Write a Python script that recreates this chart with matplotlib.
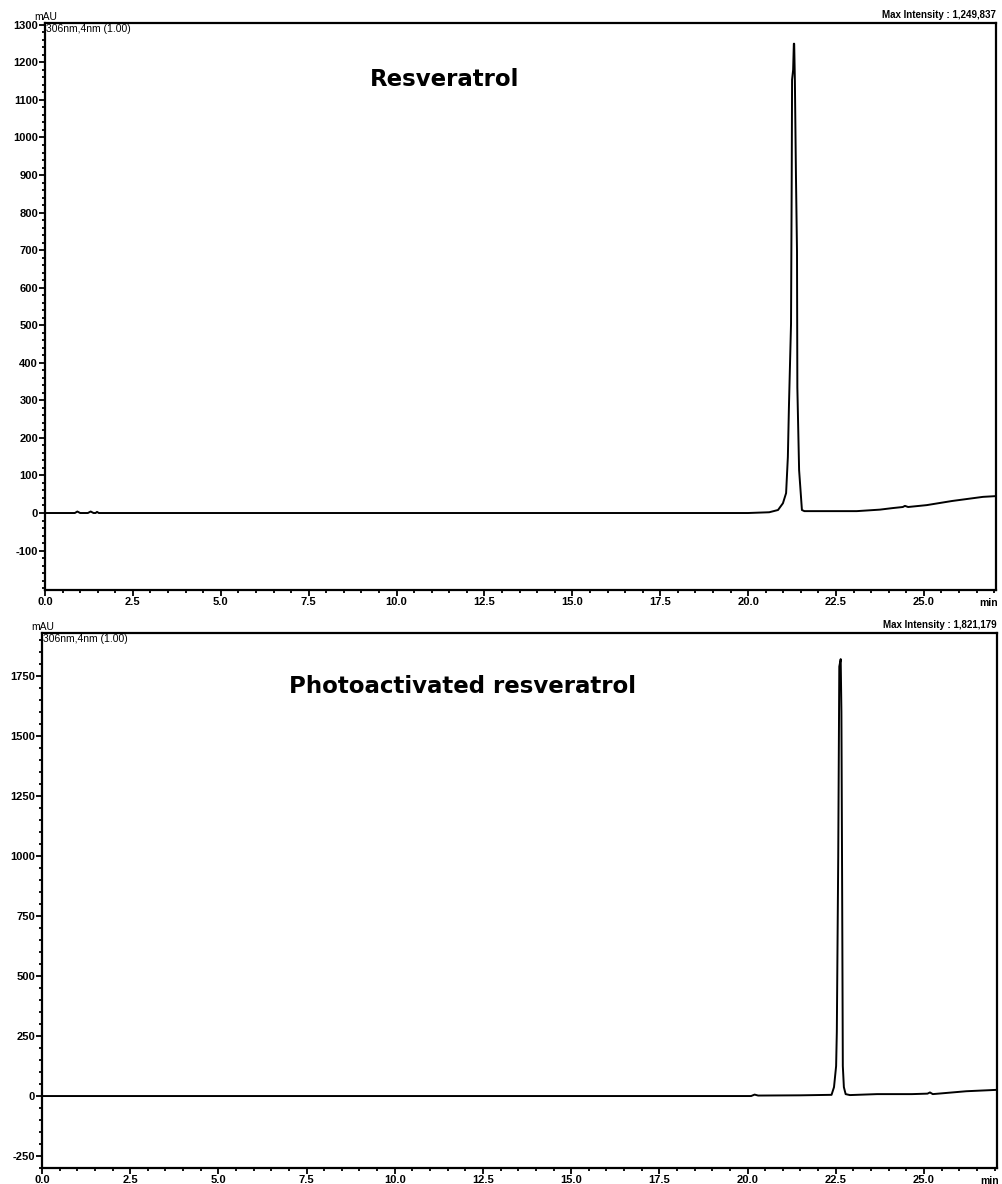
import matplotlib
matplotlib.use("Agg")
import matplotlib.pyplot as plt
from matplotlib.ticker import MultipleLocator, FormatStrFormatter

plt.rcParams["axes.unicode_minus"] = False

# chromatogram points (time in min, signal in mAU)
res_time = [0.0, 0.85, 0.92, 1.0, 1.22, 1.3, 1.38, 1.44, 1.48, 1.53, 5.0, 10.0, 15.0,
            20.0, 20.6, 20.85, 20.99, 21.08, 21.13, 21.16, 21.22, 21.24, 21.25, 21.28,
            21.30, 21.31, 21.33, 21.36, 21.39, 21.40, 21.45, 21.53, 21.6, 23.09, 23.75,
            24.1, 24.4, 24.46, 24.55, 25.08, 25.8, 26.68, 27.05]
res_signal = [0, 0, 4, 0, 0, 4, 0, 0, 3, 0, 0, 0, 0,
              0, 2, 8, 26, 53, 149, 281, 504, 900, 1154, 1180,
              1249.8, 1249.8, 1150, 900, 697, 334, 114, 8, 5, 5, 9,
              13, 16, 19, 16, 21, 32, 43, 45]

photo_time = [0.0, 5.0, 10.0, 15.0, 19.5, 20.1, 20.2, 20.3, 21.5, 22.38, 22.45, 22.51,
              22.53, 22.57, 22.60, 22.64, 22.66, 22.68, 22.70, 22.73, 22.78, 22.9,
              23.67, 24.66, 25.1, 25.17, 25.25, 26.2, 27.1]
photo_signal = [0, 0, 0, 0, 0, 0, 6, 2, 3, 5, 37, 125,
                267, 1000, 1790, 1821, 1600, 900, 125, 37, 8, 4,
                8, 8, 10, 15, 8, 20, 26]

x_ticks = [0.0, 2.5, 5.0, 7.5, 10.0, 12.5, 15.0, 17.5, 20.0, 22.5, 25.0]
res_yticks = [-100, 0, 100, 200, 300, 400, 500, 600, 700, 800, 900, 1000, 1100, 1200, 1300]
photo_yticks = [-250, 0, 250, 500, 750, 1000, 1250, 1500, 1750]

fig = plt.figure(figsize=(10.02, 11.84), dpi=100)
ax1 = fig.add_axes([0.0449, 0.5017, 0.9491, 0.4789])
ax2 = fig.add_axes([0.0419, 0.0135, 0.9531, 0.4519])

panels = [
  (ax1, res_time, res_signal, (0, 27.05), (-205, 1305), res_yticks, 20,
   "Resveratrol", 0.42, "Max Intensity : 1,249,837"),
  (ax2, photo_time, photo_signal, (0, 27.07), (-300, 1930), photo_yticks, 50,
   "Photoactivated resveratrol", 0.44, "Max Intensity : 1,821,179"),
]

for ax, t, s, xl, yl, yt, ymin, name, name_x, maxtxt in panels:
  ax.plot(t, s, color="black", lw=1.4)
  ax.set_xlim(*xl)
  ax.set_ylim(*yl)

  ax.set_xticks(x_ticks)
  ax.xaxis.set_major_formatter(FormatStrFormatter("%.1f"))
  ax.xaxis.set_minor_locator(MultipleLocator(0.5))
  ax.set_yticks(yt)
  ax.yaxis.set_minor_locator(MultipleLocator(ymin))

  ax.tick_params(which="major", direction="out", length=4, width=1.3, pad=1)
  ax.tick_params(which="minor", direction="out", length=2.5, width=1.3)
  for lab in ax.get_xticklabels() + ax.get_yticklabels():
    lab.set_fontfamily("Liberation Sans")
    lab.set_fontweight("bold")
    lab.set_fontsize(8)
  for sp in ax.spines.values():
    sp.set_linewidth(1.6)

  # unit labels around the frame
  ax.annotate("min", xy=(26.85, 0), xycoords=ax.get_xaxis_transform(),
              xytext=(0, -5.5), textcoords="offset points", ha="center", va="top",
              fontfamily="Liberation Sans", fontweight="bold", fontsize=7.5)
  ax.annotate("mAU", xy=(0, 1), xycoords="axes fraction", xytext=(-8, 1),
              textcoords="offset points", ha="left", va="bottom",
              fontfamily="Liberation Sans", fontsize=7.5)
  ax.annotate("306nm,4nm (1.00)", xy=(0, 1), xycoords="axes fraction", xytext=(1, -1),
              textcoords="offset points", ha="left", va="top",
              fontfamily="Liberation Sans", fontsize=7.5)
  ax.annotate(maxtxt, xy=(1, 1), xycoords="axes fraction", xytext=(0, 2),
              textcoords="offset points", ha="right", va="bottom",
              fontfamily="Liberation Sans", fontweight="bold", fontsize=7)

  ax.text(name_x, 0.9, name, transform=ax.transAxes, ha="center", va="center",
          fontfamily="DejaVu Sans", fontweight="bold", fontsize=16.5)

fig.savefig("out.png", dpi=100)
